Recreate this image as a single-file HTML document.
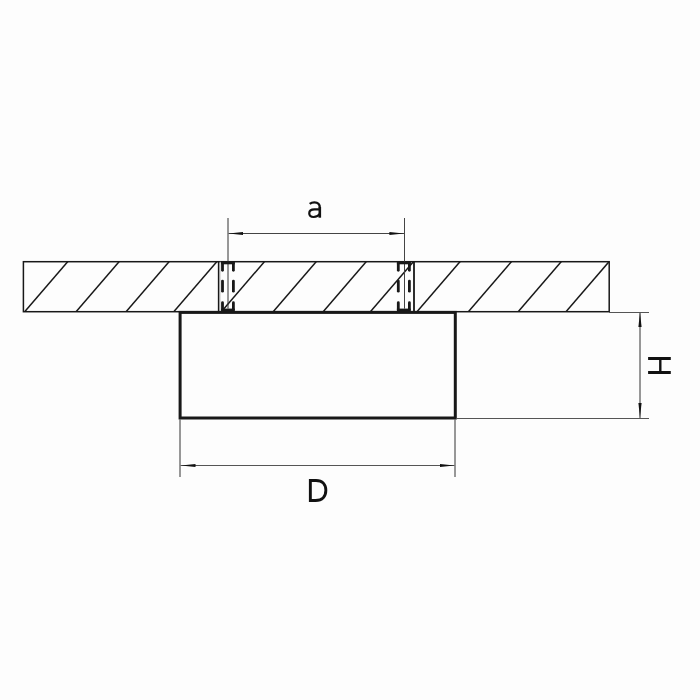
<!DOCTYPE html>
<html><head><meta charset="utf-8"><title>diagram</title>
<style>
html,body{margin:0;padding:0;background:#fdfdfd;width:700px;height:700px;overflow:hidden;font-family:"Liberation Sans",sans-serif;}
svg{display:block;}
</style></head>
<body>
<svg width="700" height="700" viewBox="0 0 700 700" role="img" aria-label="Mounting diagram with dimensions a, D, H">
  <rect width="700" height="700" fill="#fdfdfd"/>
  <defs><clipPath id="slab"><rect x="23.4" y="261.7" width="585.80" height="50.00"/></clipPath></defs>
  <!-- hatching -->
  <g clip-path="url(#slab)" stroke="#181818" stroke-width="1.5">
    <line x1="22.98" y1="313.70" x2="69.42" y2="259.70"/>
    <line x1="74.38" y1="313.70" x2="120.82" y2="259.70"/>
    <line x1="124.38" y1="313.70" x2="170.82" y2="259.70"/>
    <line x1="172.08" y1="313.70" x2="218.52" y2="259.70"/>
    <line x1="219.68" y1="313.70" x2="266.12" y2="259.70"/>
    <line x1="271.48" y1="313.70" x2="317.92" y2="259.70"/>
    <line x1="321.48" y1="313.70" x2="367.92" y2="259.70"/>
    <line x1="368.68" y1="313.70" x2="415.12" y2="259.70"/>
    <line x1="415.28" y1="313.70" x2="461.72" y2="259.70"/>
    <line x1="466.68" y1="313.70" x2="513.12" y2="259.70"/>
    <line x1="516.48" y1="313.70" x2="562.92" y2="259.70"/>
    <line x1="564.28" y1="313.70" x2="610.72" y2="259.70"/>
  </g>
  <!-- slab outline -->
  <rect x="23.4" y="261.7" width="585.80" height="50.00" fill="none" stroke="#181818" stroke-width="1.5"/>
  <!-- a extension lines -->
  <line x1="228.0" y1="218" x2="228.0" y2="308.6" stroke="#333" stroke-width="1"/>
  <line x1="404.5" y1="218" x2="404.5" y2="308.6" stroke="#444" stroke-width="1"/>
  <!-- screws -->
  <line x1="220.2" y1="261.7" x2="220.2" y2="311.7" stroke="#c8c8c8" stroke-width="0.8"/>
  <rect x="221.10" y="261.5" width="13.70" height="2.80" fill="#181818"/>
    <rect x="221.10" y="308.6" width="13.70" height="2.40" fill="#181818"/>
    <line x1="222.5" y1="262.9" x2="222.5" y2="270.3" stroke="#181818" stroke-width="2.8" stroke-linecap="round"/>
    <line x1="222.5" y1="281.1" x2="222.5" y2="291.2" stroke="#181818" stroke-width="2.8" stroke-linecap="round"/>
    <line x1="222.5" y1="302.7" x2="222.5" y2="309.5" stroke="#181818" stroke-width="2.8" stroke-linecap="round"/>
    <line x1="233.4" y1="262.9" x2="233.4" y2="270.3" stroke="#181818" stroke-width="2.8" stroke-linecap="round"/>
    <line x1="233.4" y1="281.1" x2="233.4" y2="291.2" stroke="#181818" stroke-width="2.8" stroke-linecap="round"/>
    <line x1="233.4" y1="302.7" x2="233.4" y2="309.5" stroke="#181818" stroke-width="2.8" stroke-linecap="round"/>
    <line x1="218.6" y1="261.7" x2="218.6" y2="311.7" stroke="#181818" stroke-width="1.5"/>
  <rect x="396.90" y="261.5" width="13.90" height="2.80" fill="#181818"/>
    <rect x="396.90" y="308.6" width="13.90" height="2.40" fill="#181818"/>
    <line x1="398.3" y1="262.9" x2="398.3" y2="270.3" stroke="#181818" stroke-width="2.8" stroke-linecap="round"/>
    <line x1="398.3" y1="281.1" x2="398.3" y2="291.2" stroke="#181818" stroke-width="2.8" stroke-linecap="round"/>
    <line x1="398.3" y1="302.7" x2="398.3" y2="309.5" stroke="#181818" stroke-width="2.8" stroke-linecap="round"/>
    <line x1="409.4" y1="262.9" x2="409.4" y2="270.3" stroke="#181818" stroke-width="2.8" stroke-linecap="round"/>
    <line x1="409.4" y1="281.1" x2="409.4" y2="291.2" stroke="#181818" stroke-width="2.8" stroke-linecap="round"/>
    <line x1="409.4" y1="302.7" x2="409.4" y2="309.5" stroke="#181818" stroke-width="2.8" stroke-linecap="round"/>
    <line x1="414.0" y1="261.7" x2="414.0" y2="311.7" stroke="#181818" stroke-width="1.8"/>
  <!-- box -->
  <rect x="180.1" y="312.4" width="275.2" height="105.6" fill="none" stroke="#181818" stroke-width="3"/>
  <!-- dimension a -->
  <g stroke="#333" stroke-width="1" fill="none">
    <line x1="228.5" y1="233.5" x2="404" y2="233.5" stroke="#444"/>
    <!-- D -->
    <line x1="180.0" y1="419.5" x2="180.0" y2="477"/>
    <line x1="455.0" y1="419.5" x2="455.0" y2="477"/>
    <line x1="180.5" y1="465.5" x2="454.5" y2="465.5" stroke="#555"/>
    <!-- H -->
    <line x1="609" y1="312.5" x2="649" y2="312.5" stroke="#555"/>
    <line x1="456.7" y1="418.5" x2="649" y2="418.5" stroke="#555"/>
    <line x1="640.0" y1="313" x2="640.0" y2="418"/>
  </g>
  <g fill="#111">
    <path d="M228.6,233.4 L243,231.9 L243,234.9 Z"/>
    <path d="M403.9,233.4 L389.4,231.9 L389.4,234.9 Z"/>
    <path d="M181,465.5 L195.5,464 L195.5,467 Z"/>
    <path d="M454.3,465.5 L440,464 L440,467 Z"/>
    <path d="M640.0,312.6 L638.4,326.9 L641.6,326.9 Z"/>
    <path d="M640.0,417.6 L638.4,403.1 L641.6,403.1 Z"/>
  </g>
  <!-- letters -->
  <g fill="none" stroke="#111">
    <path aria-label="D" stroke-width="2.9" d="M310.35,480.45 H316 C322.5,480.45 325.85,484.5 325.85,490.3 C325.85,496.5 322.2,500.55 315.6,500.55 H310.35 Z"/>
    <path stroke-width="2.3" d="M309.7,203.9 C311.0,202.9 312.6,202.45 314.4,202.45 C318.0,202.45 319.8,204.2 319.8,207.8"/>
    <path stroke-width="2.6" d="M319.8,207 V217.7"/>
    <path stroke-width="2.2" d="M319.8,209.4 L314.5,209.4 C310.8,209.4 309.25,211.0 309.25,213.3 C309.25,215.6 310.9,217.0 313.6,217.0 C316.4,217.0 318.6,215.8 319.8,213.8"/>
    <path stroke-width="2.85" d="M648.1,358.45 H670.8 M648.1,372.5 H670.8"/>
    <path stroke-width="2.4" d="M660.3,358.45 V372.5"/>
  </g>
</svg>
</body></html>
